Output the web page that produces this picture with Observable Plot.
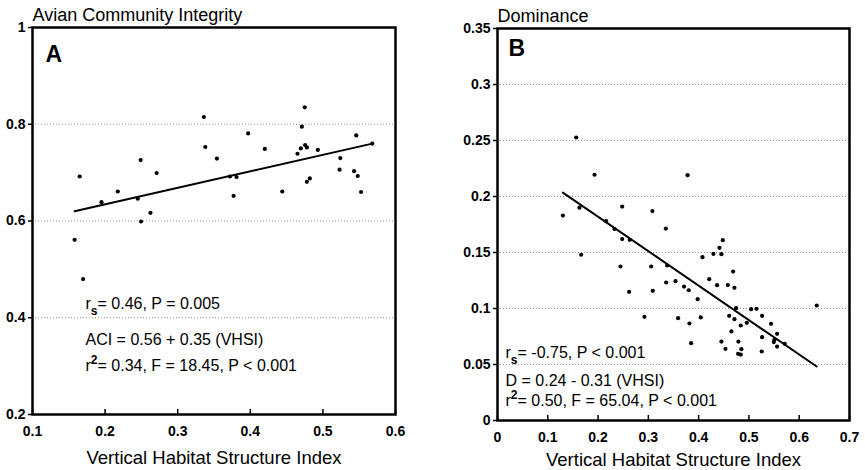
<!DOCTYPE html>
<html>
<head>
<meta charset="utf-8">
<script src="https://cdn.jsdelivr.net/npm/d3@7"></script>
<script src="https://cdn.jsdelivr.net/npm/@observablehq/plot@0.6"></script>
<style>
  html, body { margin: 0; padding: 0; background: #fff; }
  #wrap { position: relative; width: 865px; height: 470px; overflow: hidden; background: #fff; }
  #wrap svg { position: absolute; top: 0; }
</style>
</head>
<body>
<div id="wrap"></div>
<script>
// ---------- Panel A: Avian Community Integrity vs VHSI ----------
const aciVHSI = [0.165, 0.195, 0.2175, 0.249, 0.245, 0.271, 0.2625, 0.336, 0.338, 0.354,
                 0.372, 0.381, 0.377, 0.397, 0.420, 0.444, 0.475, 0.471, 0.4696, 0.4755,
                 0.478, 0.465, 0.478, 0.482, 0.493, 0.524, 0.523, 0.546, 0.543, 0.548,
                 0.5526, 0.568, 0.158, 0.1697, 0.2496];
const aciValues = [0.692, 0.639, 0.661, 0.726, 0.646, 0.699, 0.617, 0.815, 0.753, 0.729,
                   0.692, 0.691, 0.652, 0.781, 0.749, 0.661, 0.835, 0.795, 0.750, 0.757,
                   0.752, 0.739, 0.681, 0.688, 0.747, 0.730, 0.706, 0.777, 0.703, 0.693,
                   0.660, 0.760, 0.561, 0.480, 0.599];
// fitted line as drawn in panel A (ACI = 0.56 + 0.35 VHSI)
const fitA = {intercept: 0.566, slope: 0.3415};

// ---------- Panel B: Dominance vs VHSI ----------
const domVHSI = [0.1565, 0.193, 0.378, 0.130, 0.163, 0.248, 0.308,
                 0.1663, 0.216, 0.2326, 0.248, 0.263, 0.2445, 0.2618, 0.3056, 0.3088, 0.3347,
                 0.3374, 0.3354, 0.354, 0.371, 0.3803, 0.398, 0.4076, 0.421, 0.4294, 0.4367,
                 0.4414, 0.4453, 0.448, 0.458, 0.4686, 0.4712, 0.4745, 0.5044, 0.515, 0.6348,
                 0.2922, 0.3592, 0.3817, 0.4042, 0.385, 0.4607, 0.4712, 0.4837, 0.4652, 0.4957,
                 0.5262, 0.544, 0.5262, 0.556, 0.5507, 0.5494, 0.556, 0.5712, 0.4453, 0.4533,
                 0.4791, 0.4785, 0.4837, 0.485, 0.5254];
const domValues = [0.2527, 0.2194, 0.219, 0.183, 0.190, 0.191, 0.187,
                   0.148, 0.178, 0.171, 0.162, 0.1613, 0.1375, 0.1149, 0.1375, 0.1158, 0.1714,
                   0.1384, 0.1232, 0.1244, 0.1196, 0.1163, 0.1083, 0.1458, 0.1262, 0.1488, 0.1208,
                   0.1542, 0.1485, 0.161, 0.121, 0.133, 0.1185, 0.1003, 0.0994, 0.0997, 0.1027,
                   0.0926, 0.0914, 0.0866, 0.092, 0.069, 0.0935, 0.0905, 0.0848, 0.0795, 0.0872,
                   0.0935, 0.0863, 0.0744, 0.0774, 0.072, 0.070, 0.066, 0.0685, 0.0705, 0.064,
                   0.0705, 0.0595, 0.0589, 0.0637, 0.0616];
// fitted line as drawn in panel B (D = 0.24 - 0.31 VHSI)
const fitB = {intercept: 0.2435, slope: -0.3077};

// ---------- Ticks & labels ----------
const xTicksA = [0.1, 0.2, 0.3, 0.4, 0.5, 0.6];
const xTickLabelsA = ["0.1", "0.2", "0.3", "0.4", "0.5", "0.6"];
const yTicksA = [0.2, 0.4, 0.6, 0.8, 1];
const yTickLabelsA = ["0.2", "0.4", "0.6", "0.8", "1"];
const xTicksB = [0, 0.1, 0.2, 0.3, 0.4, 0.5, 0.6, 0.7];
const xTickLabelsB = ["0", "0.1", "0.2", "0.3", "0.4", "0.5", "0.6", "0.7"];
const yTicksB = [0, 0.05, 0.1, 0.15, 0.2, 0.25, 0.3, 0.35];
const yTickLabelsB = ["0", "0.05", "0.1", "0.15", "0.2", "0.25", "0.3", "0.35"];

const titleA = "Avian Community Integrity";
const titleB = "Dominance";
const xTitle = "Vertical Habitat Structure Index";
const notesA = ["r_s= 0.46, P = 0.005", "ACI = 0.56 + 0.35 (VHSI)", "r^2= 0.34, F = 18.45, P < 0.001"];
const notesB = ["r_s= -0.75, P < 0.001", "D = 0.24 - 0.31 (VHSI)", "r^2= 0.50, F = 65.04, P < 0.001"];

const FONT = '"Liberation Sans", Arial, Helvetica, sans-serif';

function panel(o) {
  const pts = o.xs.map((x, i) => ({x, y: o.ys[i]}));
  const grid = o.yTicks.slice(1, -1);
  const fitLine = d3.extent(o.xs).map(x => ({x, y: o.fit.intercept + o.fit.slope * x}));
  const marks = [
    Plot.gridY(grid, {stroke: "#888", strokeOpacity: 1, strokeWidth: 0.9, strokeDasharray: "1,2"}),
    Plot.axisX({ticks: o.xTicks, tickFormat: (d, i) => o.xLabels[i], tickSize: 0, tickPadding: 12,
                fontSize: 14, fontWeight: "bold", label: null}),
    Plot.axisX({ticks: o.xTicks, tickFormat: () => "", tickSize: -5, strokeWidth: 1.5, label: null}),
    Plot.axisY({ticks: o.yTicks, tickFormat: (d, i) => o.yLabels[i], tickSize: 4, tickPadding: 3,
                strokeWidth: 1.5, fontSize: 14, fontWeight: "bold", label: null}),
    Plot.frame({stroke: "black", strokeWidth: 2.5}),
    Plot.line(fitLine, {x: "x", y: "y", stroke: "black", strokeWidth: 2}),
    Plot.dot(pts, {x: "x", y: "y", r: 2.1, fill: "black", stroke: "none"}),
    Plot.text([o.letter], {frameAnchor: "top-left", dx: o.letterDx, dy: o.letterDy, lineAnchor: "top",
                           textAnchor: "start", fontSize: 23, fontWeight: "bold"}),
    Plot.text([o.title], {frameAnchor: "top-left", dx: 0, dy: -12, lineAnchor: "middle",
                          textAnchor: "start", fontSize: 18}),
    Plot.text([xTitle], {frameAnchor: "bottom", dy: o.xTitleDy, lineAnchor: "middle",
                         fontSize: 18.5, letterSpacing: "0.4px"})
  ];
  o.notes.forEach((t, i) => {
    marks.push(Plot.text([t], {frameAnchor: "top-left", dx: o.noteDx, dy: o.noteDy[i], lineAnchor: "middle",
                               textAnchor: "start", fontSize: 16}));
  });
  const svg = Plot.plot({
    width: o.width, height: 470,
    marginTop: o.mt, marginBottom: o.mb, marginLeft: o.ml, marginRight: o.mr,
    x: {domain: o.xDomain, nice: false},
    y: {domain: o.yDomain, nice: false},
    style: {fontFamily: FONT, fontSize: "14px", color: "black", background: "white", overflow: "visible"},
    marks
  });
  svg.style.left = o.left + "px";
  fixScripts(svg);
  return svg;
}

function fixScripts(svg) {
  const ns = "http://www.w3.org/2000/svg";
  svg.querySelectorAll("text").forEach(t => {
    const s = t.textContent;
    const m = s.match(/^r([_^])(\w)(.*)$/);
    if (!m) return;
    const sub = m[1] === "_";
    while (t.firstChild) t.removeChild(t.firstChild);
    const a = document.createElementNS(ns, "tspan"); a.textContent = "r"; t.appendChild(a);
    const b = document.createElementNS(ns, "tspan"); b.textContent = m[2];
    b.setAttribute("font-size", "12"); b.setAttribute("font-weight", "bold");
    b.setAttribute("dy", sub ? "6" : "-7"); t.appendChild(b);
    const c = document.createElementNS(ns, "tspan"); c.textContent = m[3];
    c.setAttribute("dy", sub ? "-6" : "7"); t.appendChild(c);
  });
}

const wrap = document.getElementById("wrap");
wrap.appendChild(panel({
  xs: aciVHSI, ys: aciValues, fit: fitA, xDomain: [0.1, 0.6], yDomain: [0.2, 1],
  xTicks: xTicksA, xLabels: xTickLabelsA, yTicks: yTicksA, yLabels: yTickLabelsA,
  left: 0, width: 440, mt: 27, mb: 56, ml: 32, mr: 45,
  title: titleA, letter: "A", letterDx: 13, letterDy: 18,
  notes: notesA, noteDx: 53, noteDy: [276, 312, 338], xTitleDy: 44
}));
wrap.appendChild(panel({
  xs: domVHSI, ys: domValues, fit: fitB, xDomain: [0, 0.7], yDomain: [0, 0.35],
  xTicks: xTicksB, xLabels: xTickLabelsB, yTicks: yTicksB, yLabels: yTickLabelsB,
  left: 440, width: 425, mt: 28, mb: 50, ml: 57, mr: 16,
  title: titleB, letter: "B", letterDx: 11, letterDy: 11,
  notes: notesB, noteDx: 8, noteDy: [324, 352, 372], xTitleDy: 40
}));
</script>
</body>
</html>
